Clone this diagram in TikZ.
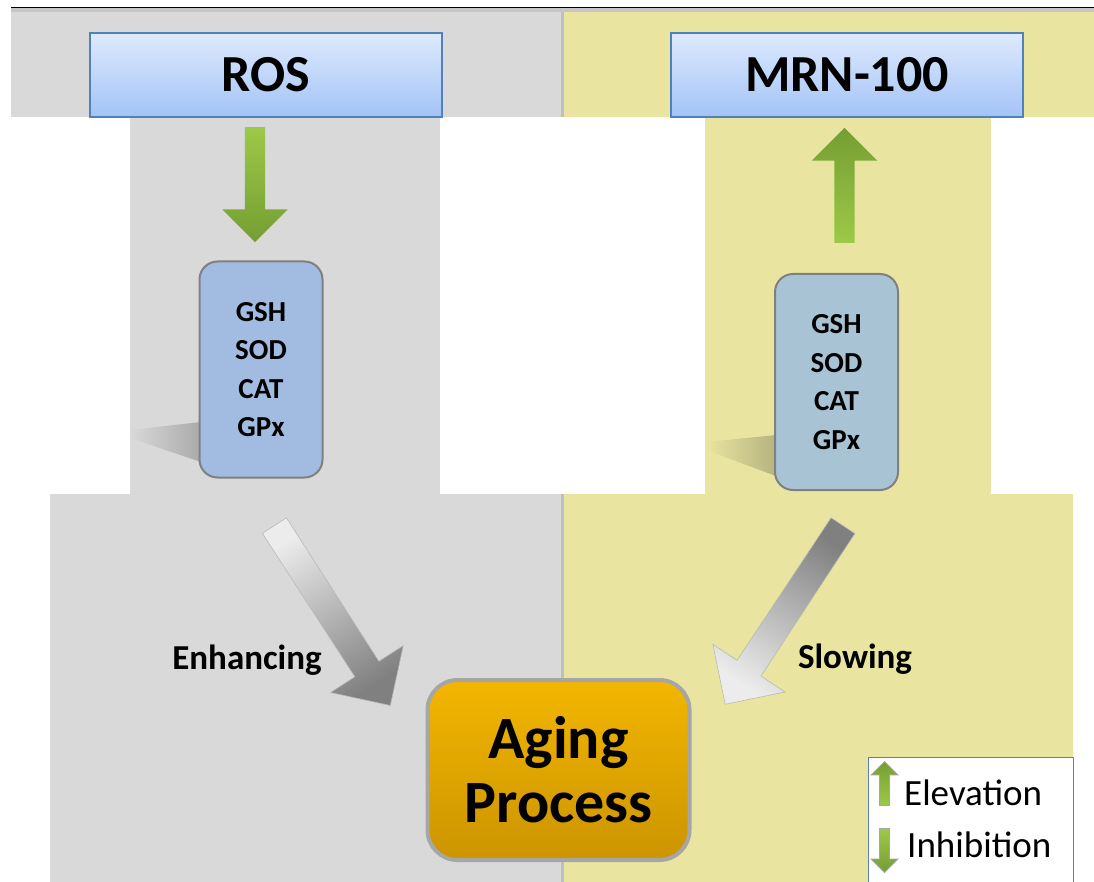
\documentclass[tikz,border=0pt]{standalone}
\usepackage{fontspec}
\setmainfont{Carlito}
\usetikzlibrary{shapes.arrows}
\definecolor{bandgray}{RGB}{217,217,217}
\definecolor{bandyel}{RGB}{233,229,161}
\definecolor{sepgray}{RGB}{191,191,191}
\definecolor{rostop}{RGB}{222,234,253}
\definecolor{rosbot}{RGB}{163,195,247}
\definecolor{rosline}{RGB}{79,129,189}
\definecolor{enzleft}{RGB}{161,188,224}
\definecolor{enzright}{RGB}{168,195,212}
\definecolor{enzline}{RGB}{128,128,128}
\definecolor{leafhi}{RGB}{157,201,72}
\definecolor{leaflo}{RGB}{116,158,50}
\definecolor{agetop}{RGB}{243,182,0}
\definecolor{agebot}{RGB}{204,148,0}
\definecolor{legline}{RGB}{91,127,176}

\begin{document}
\begin{tikzpicture}[x=1pt,y=-1pt,
topbox/.style={draw=rosline,line width=1.5pt,top color=rostop,bottom color=rosbot,minimum width=352pt,minimum height=84pt,font=\fontsize{52}{56}\selectfont\bfseries},
enzbox/.style={draw=enzline,line width=2pt,rounded corners=18pt,minimum width=123pt,minimum height=216pt,align=center,font=\fontsize{29}{38.5}\selectfont\bfseries},
agebox/.style={draw=gray!70,line width=4pt,rounded corners=30pt,top color=agetop,bottom color=agebot,minimum width=262pt,minimum height=180pt,align=center,font=\fontsize{60}{64}\selectfont\bfseries},
greenarrow/.style={single arrow,inner xsep=0pt,inner ysep=10pt,single arrow head extend=22.5pt,minimum height=115pt},
greyarrow/.style={single arrow,inner xsep=0pt,inner ysep=14pt,single arrow head extend=29pt,minimum height=214pt,draw=gray!55,line width=0.6pt},
legarrow/.style={single arrow,inner xsep=0pt,inner ysep=4.5pt,single arrow head extend=8.5pt,minimum height=44pt,draw=gray!70,line width=0.8pt},
lbl/.style={inner sep=0pt,font=\fontsize{35}{40}\selectfont\bfseries},
legtxt/.style={inner sep=0pt,anchor=west,font=\fontsize{37}{42}\selectfont}]
\useasboundingbox (0,0) rectangle (1094,882);
\clip (0,0) rectangle (1094,882);
% backgrounds
\fill[bandgray] (11,12) rectangle (562,117);
\fill[bandyel] (564,12) rectangle (1094,117);
\fill[bandgray] (130,117) rectangle (440,494);
\fill[bandyel] (705,117) rectangle (991,494);
\fill[bandgray] (50,494) rectangle (562,882);
\fill[bandyel] (564,494) rectangle (1073,882);
\fill[gray!45] (11,8.5) rectangle (1094,12);
\draw[line width=1.5pt] (11,7.5) -- (1094,7.5);
\draw[sepgray,line width=3pt] (562.5,12) -- (562.5,117);
\draw[sepgray,line width=3pt] (562.5,494) -- (562.5,882);
% box shadows
\shade[left color=bandgray,right color=bandgray!78!black] (130,430) -- (201,422) -- (201,462) -- (130,438) -- cycle;
\shade[left color=bandyel,right color=bandyel!78!black] (706,442) -- (776,435) -- (776,476) -- (706,450) -- cycle;
% top row
\node[topbox] (ros) at (266,75) {ROS};
\node[topbox] (mrn) at (847,75) {MRN-100};
\node[greenarrow,rotate=-90,top color=leafhi,bottom color=leaflo] (downleaf) at (255,179.5) {};
\node[greenarrow,rotate=90,top color=leaflo,bottom color=leafhi] (upleaf) at (844.5,190.5) {};
% enzymes
\node[enzbox,fill=enzleft] (enzleft) at (261,369.5) {GSH\\SOD\\CAT\\GPx};
\node[enzbox,fill=enzright] (enzright) at (836.5,382) {GSH\\SOD\\CAT\\GPx};
% effect on aging
\node[greyarrow,rotate=-57.2,top color=gray!15,bottom color=gray!100,shading angle=32.8] (enharrow) at (328.5,609.5) {};
\node[greyarrow,rotate=-123.4,top color=gray!100,bottom color=gray!15,shading angle=-33.4] (slowarrow) at (788,609) {};
\node[lbl] (enhlbl) at (247,660) {Enhancing};
\node[lbl] (slowlbl) at (855,659) {Slowing};
\node[agebox] (aging) at (558.5,770) {Aging\\Process};
% legend
\node[draw=legline,fill=white,line width=1pt,anchor=north west,minimum width=205pt,minimum height=140pt] (legend) at (868,757) {};
\node[legarrow,rotate=90,top color=leaflo,bottom color=leafhi] (legup) at (884.5,786) {};
\node[legarrow,rotate=-90,top color=leafhi,bottom color=leaflo] (legdown) at (884.5,848) {};
\node[legtxt] (elev) at (904,793) {Elevation};
\node[legtxt] (inhib) at (907,845) {Inhibition};
\end{tikzpicture}
\end{document}
